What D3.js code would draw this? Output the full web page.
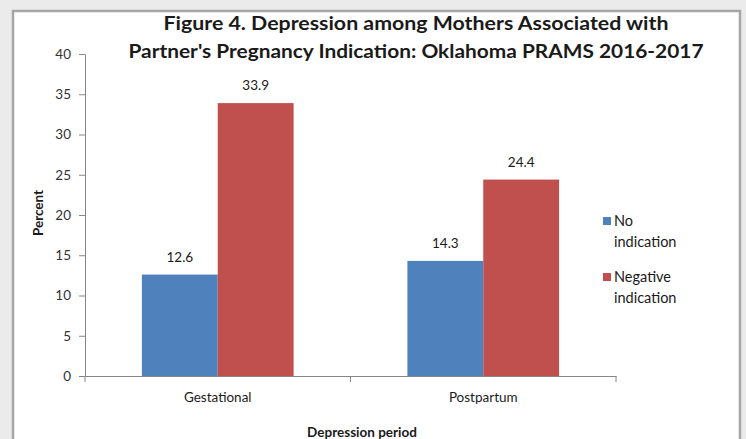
<!DOCTYPE html>
<html><head><meta charset="utf-8">
<script src="https://cdn.jsdelivr.net/npm/d3@7"></script>
<style>
html,body{margin:0;padding:0;background:#ebebeb;}
svg{display:block;}
text{font-family:Lato,"Open Sans",sans-serif;}
</style></head>
<body>
<svg id="chart" width="746" height="439"></svg>
<script>
const categories = ["Gestational", "Postpartum"];
const seriesNames = ["No indication", "Negative indication"];
const noIndication = [12.6, 14.3];
const negativeIndication = [33.9, 24.4];
const yTicks = [0, 5, 10, 15, 20, 25, 30, 35, 40];
const titleLines = ["Figure 4. Depression among Mothers Associated with",
                    "Partner's Pregnancy Indication: Oklahoma PRAMS 2016-2017"];
const legendLines = [["No", "indication"], ["Negative", "indication"]];
const colors = ["#4f81bd", "#c0504d"];

const seriesValues = [noIndication, negativeIndication];
const svg = d3.select("#chart");

// panel
svg.append("rect").attr("x", 13).attr("y", 11).attr("width", 727).attr("height", 445)
  .attr("fill", "#ffffff").attr("stroke", "#a6a6a6").attr("stroke-width", 2.5);

const y = d3.scaleLinear().domain([0, 40]).range([376, 54]);
const x0 = d3.scaleBand().domain(categories).range([85, 616]).paddingInner(0).paddingOuter(0);
const x1 = d3.scaleBand().domain(seriesNames).range([0, x0.bandwidth()]).paddingInner(0).paddingOuter(0.75);

// title
const titleW = [505, 575];
titleLines.forEach((t, i) => {
  svg.append("text").attr("x", 416).attr("y", 30 + i * 28)
    .attr("text-anchor", "middle").attr("font-size", 19).attr("font-weight", "bold")
    .attr("fill", "#1a1a1a")
    .attr("textLength", titleW[i]).attr("lengthAdjust", "spacingAndGlyphs")
    .text(t);
});

// y axis
const yAxis = d3.axisLeft(y).tickValues(yTicks).tickSize(6).tickSizeOuter(0).tickPadding(8);
const gy = svg.append("g").attr("transform", "translate(85,0)").call(yAxis);
gy.select(".domain").attr("stroke", "#868686");
gy.selectAll(".tick line").attr("stroke", "#868686");
gy.selectAll(".tick text").attr("font-size", 13.5).attr("fill", "#333").attr("font-family", "Lato");

// bars
const groups = svg.append("g").selectAll("g").data(categories).join("g")
  .attr("transform", d => `translate(${x0(d)},0)`);
seriesNames.forEach((s, si) => {
  groups.append("rect")
    .attr("x", x1(s)).attr("width", x1.bandwidth())
    .attr("y", (d, ci) => y(seriesValues[si][ci]))
    .attr("height", (d, ci) => y(0) - y(seriesValues[si][ci]))
    .attr("fill", colors[si]);
  groups.append("text")
    .attr("x", x1(s) + x1.bandwidth() / 2)
    .attr("y", (d, ci) => y(seriesValues[si][ci]) - 13)
    .attr("text-anchor", "middle").attr("font-size", 13.5).attr("fill", "#1a1a1a")
    .text((d, ci) => seriesValues[si][ci].toFixed(1));
});

// x axis
const xAxis = d3.axisBottom(x0).tickSize(0).tickPadding(16);
const gx = svg.append("g").attr("transform", `translate(0,${y(0)})`).call(xAxis);
gx.select(".domain").attr("stroke", "#868686");
gx.selectAll(".tick text").attr("font-size", 13.5).attr("fill", "#1a1a1a").attr("font-family", "Lato");
const edges = [x0.range()[0]].concat(categories.map(c => x0(c) + x0.bandwidth()));
gx.selectAll("line.edge").data(edges).join("line").attr("class", "edge")
  .attr("x1", d => d).attr("x2", d => d).attr("y1", 0).attr("y2", 6)
  .attr("stroke", "#868686");

// axis titles
svg.append("text").attr("transform", "translate(43,213) rotate(-90)")
  .attr("text-anchor", "middle").attr("font-size", 13.5).attr("font-weight", "bold")
  .attr("fill", "#1a1a1a").text("Percent");
svg.append("text").attr("x", 362).attr("y", 437)
  .attr("text-anchor", "middle").attr("font-size", 13.5).attr("font-weight", "bold")
  .attr("fill", "#1a1a1a").text("Depression period");

// legend
const legTop = [217, 273];
seriesNames.forEach((s, i) => {
  svg.append("rect").attr("x", 603).attr("y", legTop[i]).attr("width", 8).attr("height", 8)
    .attr("fill", colors[i]);
  legendLines[i].forEach((ln, j) => {
    svg.append("text").attr("x", 614).attr("y", legTop[i] + 9 + j * 21)
      .attr("font-size", 14.5).attr("fill", "#1a1a1a").text(ln);
  });
});
</script>
</body></html>
